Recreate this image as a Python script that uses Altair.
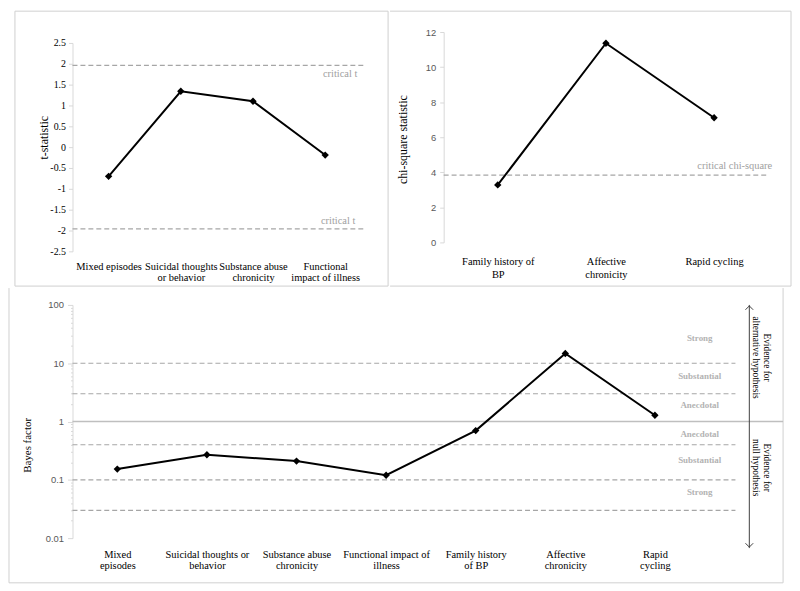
import altair as alt
import pandas as pd

# ---------------- data ----------------
t_cats = ["Mixed episodes", "Suicidal thoughts\nor behavior", "Substance abuse\nchronicity",
          "Functional\nimpact of illness"]
t_vals = [-0.70, 1.34, 1.10, -0.19]
t_crit = 1.96
t_ticks = [-2.5, -2, -1.5, -1, -0.5, 0, 0.5, 1, 1.5, 2, 2.5]

chi_cats = ["Family history of\nBP", "Affective\nchronicity", "Rapid cycling"]
chi_vals = [3.28, 11.36, 7.11]
chi_crit = 3.84
chi_ticks = [0, 2, 4, 6, 8, 10, 12]

bf_cats = ["Mixed\nepisodes", "Suicidal thoughts or\nbehavior", "Substance abuse\nchronicity",
           "Functional impact of\nillness", "Family history\nof BP", "Affective\nchronicity",
           "Rapid\ncycling"]
bf_vals = [0.153, 0.27, 0.21, 0.12, 0.70, 14.7, 1.28]
bf_dashed = [10, 3, 0.4, 0.1, 0.03]
bf_solid = [1]
bf_zone_labels = ["Strong", "Substantial", "Anecdotal", "Anecdotal", "Substantial", "Strong"]
bf_zone_pos = [27, 6, 1.95, 0.6, 0.22, 0.062]
bf_ticks = [m * 10.0 ** e for e in range(-2, 2) for m in range(1, 10)] + [100]

# ---------------- styles ----------------
SERIF = "Liberation Serif"
SANS = "Liberation Sans"
AXIS_GRAY = "#d9d9d9"
DASH_GRAY = "#a6a6a6"
BORDER = "#d0d0d0"
CRIT_GRAY = "#a0a0a0"
one = alt.Data(values=[{"a": 0}])


def hrule(x1, x2, y):
    return alt.Chart(one).mark_rule(color=BORDER, strokeWidth=1).encode(
        x=alt.value(x1), x2=alt.value(x2), y=alt.value(y))


def vrule(x, y1, y2):
    return alt.Chart(one).mark_rule(color=BORDER, strokeWidth=1).encode(
        x=alt.value(x), y=alt.value(y1), y2=alt.value(y2))


def xaxis(pad, lh):
    return alt.Axis(title=None, labelAngle=0, domain=False, ticks=False, labelFont=SERIF,
                    labelFontSize=10.5, labelColor="black", labelPadding=pad,
                    labelLineHeight=lh, labelOverlap=False,
                    labelExpr="split(datum.label, '\\n')")


# ---------------- top-left: t statistic ----------------
W1, H1 = 291, 221
df_t = pd.DataFrame({"cat": t_cats, "val": t_vals})
x_t = alt.X("cat:N", sort=t_cats, scale=alt.Scale(type="point", padding=0.5), axis=xaxis(10, 11.5))
y_t = alt.Y("val:Q", scale=alt.Scale(domain=[-2.5, 2.5], range=[221, 11], nice=False, zero=False),
            axis=alt.Axis(values=t_ticks, labelExpr="'' + datum.value", title="t-statistic",
                          titleFont=SERIF, titleFontSize=12, titleFontWeight="normal",
                          titleColor="black", titleX=-29, titleY=106, titleBaseline="middle",
                          labelFont=SERIF, labelFontSize=10, labelColor="black", labelPadding=3,
                          labelOverlap=False,
                          domainColor=AXIS_GRAY, tickColor=AXIS_GRAY, tickSize=4, grid=False))

tl_box = alt.Chart(one).mark_rect(fillOpacity=0, stroke=BORDER, strokeWidth=1).encode(
    x=alt.value(-58), x2=alt.value(318), y=alt.value(-21), y2=alt.value(256))
tl_crit = alt.Chart(pd.DataFrame({"val": [t_crit, -t_crit]})).mark_rule(
    color=DASH_GRAY, strokeDash=[5, 3], strokeWidth=1.2).encode(
    y=y_t, x=alt.value(0), x2=alt.value(294))
tl_lab_up = alt.Chart(pd.DataFrame({"val": [t_crit]})).mark_text(
    text="critical t", align="right", baseline="middle", dy=9, font=SERIF, fontSize=10.5,
    color=CRIT_GRAY).encode(y=y_t, x=alt.value(287))
tl_lab_dn = alt.Chart(pd.DataFrame({"val": [-t_crit]})).mark_text(
    text="critical t", align="right", baseline="middle", dy=-8, font=SERIF, fontSize=10.5,
    color=CRIT_GRAY).encode(y=y_t, x=alt.value(285))
tl_line = alt.Chart(df_t).mark_line(color="black", strokeWidth=2).encode(x=x_t, y=y_t)
tl_pts = alt.Chart(df_t).mark_point(shape="diamond", filled=True, size=55, color="black",
                                    opacity=1).encode(x=x_t, y=y_t)
top_left = alt.layer(tl_box, tl_crit, tl_lab_up, tl_lab_dn, tl_line, tl_pts).properties(
    width=W1, height=H1)

# ---------------- top-right: chi-square ----------------
W2, H2 = 327, 212
df_c = pd.DataFrame({"cat": chi_cats, "val": chi_vals})
x_c = alt.X("cat:N", sort=chi_cats, scale=alt.Scale(type="point", padding=0.5), axis=xaxis(14, 13.5))
y_c = alt.Y("val:Q", scale=alt.Scale(domain=[0, 12], nice=False),
            axis=alt.Axis(values=chi_ticks, title="chi-square statistic", titleFont=SERIF,
                          titleFontSize=12, titleFontWeight="normal", titleColor="black",
                          titleX=-41, titleY=108, titleBaseline="middle",
                          labelFont=SANS, labelFontSize=9.5, labelColor="#595959", labelPadding=4,
                          labelOverlap=False,
                          domainColor=AXIS_GRAY, tickColor=AXIS_GRAY, tickSize=4, grid=False))
tr_borders = [hrule(-54, 350, -21), vrule(350, -21, 256), hrule(-54, 350, 256)]
tr_crit = alt.Chart(pd.DataFrame({"val": [chi_crit]})).mark_rule(
    color=DASH_GRAY, strokeDash=[5, 3], strokeWidth=1.2).encode(
    y=y_c, x=alt.value(0), x2=alt.value(W2))
tr_lab = alt.Chart(pd.DataFrame({"val": [chi_crit]})).mark_text(
    text="critical chi-square", align="right", baseline="middle", dy=-9, font=SERIF,
    fontSize=10.5, color=CRIT_GRAY).encode(y=y_c, x=alt.value(331))
tr_line = alt.Chart(df_c).mark_line(color="black", strokeWidth=2).encode(x=x_c, y=y_c)
tr_pts = alt.Chart(df_c).mark_point(shape="diamond", filled=True, size=55, color="black",
                                    opacity=1).encode(x=x_c, y=y_c)
top_right = alt.layer(*tr_borders, tr_crit, tr_lab, tr_line, tr_pts).properties(
    width=W2, height=H2)

# ---------------- bottom: Bayes factor ----------------
W3, H3 = 632, 235
df_b = pd.DataFrame({"cat": bf_cats, "val": bf_vals})
decade = "abs(log(datum.value)/LN10 - round(log(datum.value)/LN10)) < 0.001"
x_b = alt.X("cat:N", sort=bf_cats, scale=alt.Scale(type="point", padding=0.5), axis=xaxis(11, 12))
y_b = alt.Y("val:Q", scale=alt.Scale(type="log", domain=[0.01, 100], nice=False),
            axis=alt.Axis(values=bf_ticks, labelExpr=decade + " ? '' + datum.value : ''",
                          title="Bayes factor", titleFont=SERIF, titleFontSize=11,
                          titleFontWeight="normal", titleColor="black", titleX=-45, titleY=141,
                          titleBaseline="middle", labelFont=SANS, labelFontSize=9.5,
                          labelColor="#595959", labelPadding=4, labelOverlap=False,
                          domainColor=AXIS_GRAY, tickColor=AXIS_GRAY,
                          tickSize={"condition": {"test": decade, "value": 5}, "value": 2},
                          grid=False))
b_borders = [vrule(-64, -17, 280), hrule(-64, 716, 280), vrule(716, -17, 280)]
b_dash = alt.Chart(pd.DataFrame({"val": bf_dashed})).mark_rule(
    color=DASH_GRAY, strokeDash=[5, 3], strokeWidth=1.2).encode(
    y=y_b, x=alt.value(0), x2=alt.value(668))
b_solid = alt.Chart(pd.DataFrame({"val": bf_solid})).mark_rule(
    color="#bfbfbf", strokeWidth=1.5).encode(y=y_b, x=alt.value(0), x2=alt.value(716))
b_zone = alt.Chart(pd.DataFrame({"label": bf_zone_labels, "val": bf_zone_pos})).mark_text(
    font=SERIF, fontWeight="bold", fontSize=9, color="#b3b3b3", align="center",
    baseline="middle").encode(y=y_b, x=alt.value(632), text="label:N")
b_alt = alt.Chart(one).mark_text(
    text=["Evidence for", "alternative hypothesis"], angle=90, font=SERIF, fontSize=9.5,
    lineHeight=11, align="center", baseline="middle", color="black").encode(
    x=alt.value(700), y=alt.value(53))
b_null = alt.Chart(one).mark_text(
    text=["Evidence for", "null hypothesis"], angle=90, font=SERIF, fontSize=9.5,
    lineHeight=11, align="center", baseline="middle", color="black").encode(
    x=alt.value(700), y=alt.value(164))
b_arrow = alt.Chart(one).mark_rule(color="#404040", strokeWidth=1).encode(
    x=alt.value(682), y=alt.value(0), y2=alt.value(245))
b_head_up = alt.Chart(one).mark_point(shape="M-1,1L0,0L1,1", filled=False, size=60,
                                      color="#404040", strokeWidth=1, opacity=1).encode(
    x=alt.value(682), y=alt.value(1))
b_head_dn = alt.Chart(one).mark_point(shape="M-1,-1L0,0L1,-1", filled=False, size=60,
                                      color="#404040", strokeWidth=1, opacity=1).encode(
    x=alt.value(682), y=alt.value(244))
b_line = alt.Chart(df_b).mark_line(color="black", strokeWidth=2).encode(x=x_b, y=y_b)
b_pts = alt.Chart(df_b).mark_point(shape="diamond", filled=True, size=55, color="black",
                                   opacity=1).encode(x=x_b, y=y_b)
bottom = alt.layer(*b_borders, b_dash, b_solid, b_zone, b_alt, b_null, b_arrow, b_head_up,
                   b_head_dn, b_line, b_pts).properties(width=W3, height=H3)

chart = alt.vconcat(
    alt.hconcat(top_left, top_right, spacing=0),
    bottom, spacing=0
).properties(padding=0, background="white").configure_view(stroke=None)

chart.save("out.html", embed_options={"renderer": "svg", "actions": False})
